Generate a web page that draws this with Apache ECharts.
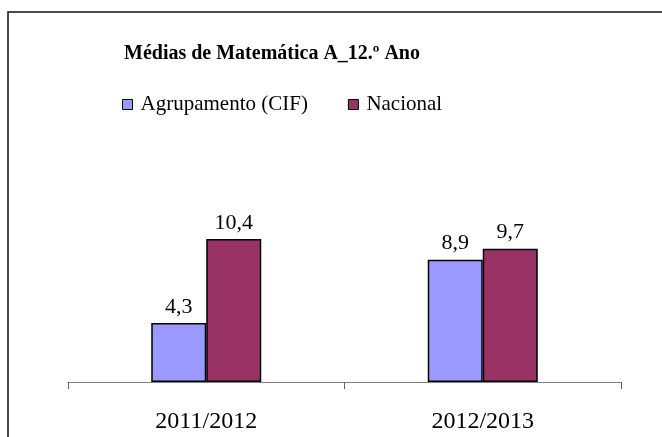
<!DOCTYPE html>
<html>
<head>
  <meta charset="utf-8">
  <title>Médias de Matemática A_12.º Ano</title>
  <script src="https://cdn.jsdelivr.net/npm/echarts@6/dist/echarts.min.js"></script>
  <style>
    html, body { margin: 0; padding: 0; background: #fff; }
    #chart { width: 662px; height: 437px; }
  </style>
</head>
<body>
<div id="chart"></div>
<script>
  // dados
  const categories = ['2011/2012', '2012/2013'];
  const agrupamento = [4.3, 8.9];
  const nacional = [10.4, 9.7];
  const seriesNames = ['Agrupamento (CIF)', 'Nacional'];

  const serif = '"Liberation Serif", "Times New Roman", serif';

  const myChart = echarts.init(document.getElementById('chart'));

  // rótulo com vírgula decimal
  const fmt = (p) => String(p.value).replace('.', ',');

  const option = {
    backgroundColor: '#fff',
    animation: false,
    graphic: [
      {
        type: 'rect',
        shape: { x: 8, y: 12, width: 700, height: 500 },
        style: { fill: 'none', stroke: '#111', lineWidth: 1.5 },
        silent: true
      }
    ],
    title: {
      text: 'Médias de Matemática A_12.º Ano',
      left: 119,
      top: 39,
      textStyle: {
        fontFamily: serif,
        fontWeight: 'bold',
        fontSize: 20,
        color: '#000'
      }
    },
    legend: {
      data: seriesNames,
      left: 117,
      top: 89,
      itemWidth: 10,
      itemHeight: 10,
      itemGap: 40,
      icon: 'rect',
      itemStyle: { borderColor: '#000', borderWidth: 1 },
      textStyle: {
        fontFamily: serif,
        fontSize: 21,
        color: '#000',
        padding: [0, 0, 0, 3]
      }
    },
    grid: {
      left: 68,
      right: 41,
      top: 107,
      bottom: 55
    },
    xAxis: {
      type: 'category',
      data: categories,
      axisLine: { lineStyle: { color: '#808080', width: 1 } },
      axisTick: { show: true, length: 7, inside: false, lineStyle: { color: '#606060' } },
      axisLabel: {
        margin: 28,
        fontFamily: serif,
        fontSize: 24,
        color: '#000'
      }
    },
    yAxis: {
      type: 'value',
      min: 0,
      max: 20,
      show: false
    },
    series: [
      {
        name: seriesNames[0],
        type: 'bar',
        data: agrupamento,
        barWidth: 55,
        barGap: '0%',
        itemStyle: { color: '#9999FF', borderColor: '#000', borderWidth: 1.5 },
        label: {
          show: true,
          position: 'top',
          distance: 5,
          formatter: fmt,
          fontFamily: serif,
          fontSize: 22,
          color: '#000'
        }
      },
      {
        name: seriesNames[1],
        type: 'bar',
        data: nacional,
        barWidth: 55,
        barGap: '0%',
        itemStyle: { color: '#993366', borderColor: '#000', borderWidth: 1.5 },
        label: {
          show: true,
          position: 'top',
          distance: 5,
          formatter: fmt,
          fontFamily: serif,
          fontSize: 22,
          color: '#000'
        }
      }
    ]
  };

  myChart.setOption(option);
</script>
</body>
</html>
